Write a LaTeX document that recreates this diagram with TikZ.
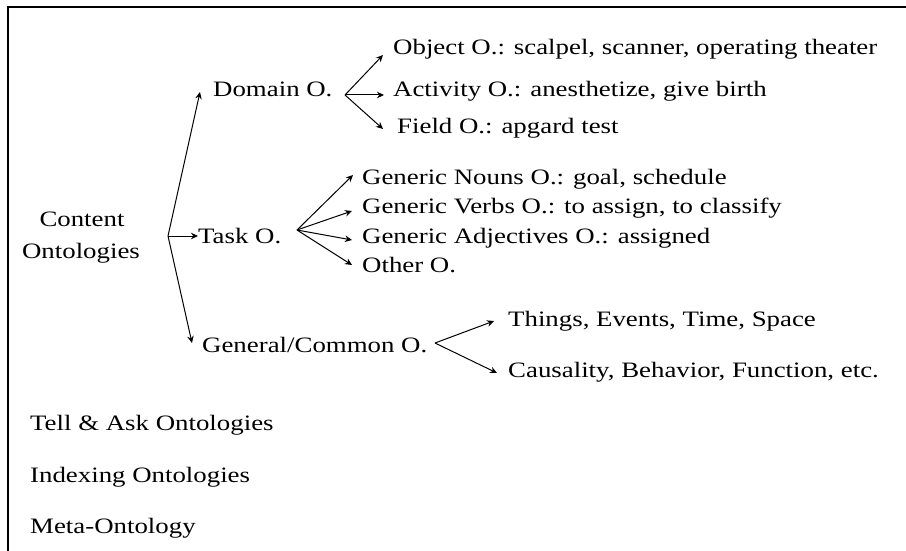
\documentclass[tikz,border=0pt]{standalone}
\usepackage{fontspec}
\setmainfont[FakeStretch=1.22]{Liberation Serif}
\usetikzlibrary{arrows.meta}
\begin{document}
\begin{tikzpicture}[x=1pt,y=-1pt,
  lbl/.style={anchor=base west,inner sep=0pt,font=\fontsize{22}{26}\selectfont},
  conn/.style={line width=1pt,-{Stealth[length=7pt,width=6.5pt]}}]
\useasboundingbox (0,0) rectangle (906,551);
% frame: top and left edges only
\draw[line width=1.6pt] (906,7) -- (8,7) -- (8,551);

% root
\node[lbl,anchor=base] (content) at (82,226) {Content};
\node[lbl,anchor=base] (ontol) at (81,258) {Ontologies};

% second level
\node[lbl] (domain) at (213,96) {Domain O.};
\node[lbl] (task) at (198,243) {Task O.};
\node[lbl] (general) at (202,352) {General/Common O.};

% leaves of Domain O.
\node[lbl] (object) at (393,55) {Object O.: scalpel, scanner, operating theater};
\node[lbl] (activity) at (393,97) {Activity O.: anesthetize, give birth};
\node[lbl] (field) at (397,134) {Field O.: apgard test};

% leaves of Task O.
\node[lbl] (nouns) at (362,184) {Generic Nouns O.: goal, schedule};
\node[lbl] (verbs) at (362,213) {Generic Verbs O.: to assign, to classify};
\node[lbl] (adjs) at (362,243) {Generic Adjectives O.: assigned};
\node[lbl] (other) at (362,272) {Other O.};

% leaves of General/Common O.
\node[lbl] (things) at (508,326) {Things, Events, Time, Space};
\node[lbl] (causal) at (508,377) {Causality, Behavior, Function, etc.};

% other ontologies
\node[lbl] (tell) at (30,430) {Tell \& Ask Ontologies};
\node[lbl] (index) at (30,482) {Indexing Ontologies};
\node[lbl] (meta) at (30,533) {Meta-Ontology};

% branch points and arrow ends
\coordinate (rootfork) at (168,236);
\coordinate (domaintip) at (200,92);
\coordinate (tasktip) at (198,236);
\coordinate (generaltip) at (192,343);

\coordinate (domfork) at (345,95);
\coordinate (objtip) at (383,55);
\coordinate (acttip) at (384,95);
\coordinate (fldtip) at (383,129);

\coordinate (taskfork) at (297,230);
\coordinate (noutip) at (353,175);
\coordinate (vertip) at (352,211);
\coordinate (adjtip) at (352,240);
\coordinate (othtip) at (352,265);

\coordinate (genfork) at (435,343);
\coordinate (thitip) at (494,321);
\coordinate (cautip) at (497,373);

\draw[conn] (rootfork) -- (domaintip);
\draw[conn] (rootfork) -- (tasktip);
\draw[conn] (rootfork) -- (generaltip);

\draw[conn] (domfork) -- (objtip);
\draw[conn] (domfork) -- (acttip);
\draw[conn] (domfork) -- (fldtip);

\draw[conn] (taskfork) -- (noutip);
\draw[conn] (taskfork) -- (vertip);
\draw[conn] (taskfork) -- (adjtip);
\draw[conn] (taskfork) -- (othtip);

\draw[conn] (genfork) -- (thitip);
\draw[conn] (genfork) -- (cautip);
\end{tikzpicture}
\end{document}
